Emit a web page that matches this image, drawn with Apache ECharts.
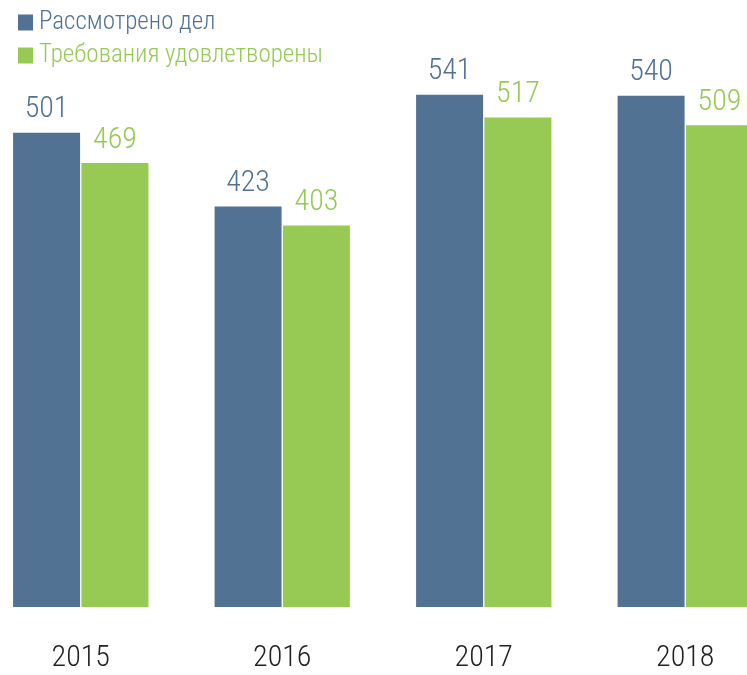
<!DOCTYPE html>
<html>
<head>
<meta charset="utf-8">
<script src="https://cdn.jsdelivr.net/npm/echarts@6/dist/echarts.min.js"></script>
<style>
html,body{margin:0;padding:0;background:#fff;}
#chart{width:747px;height:675px;}
</style>
</head>
<body>
<div id="chart"></div>
<script>
var years = ['2015', '2016', '2017', '2018'];
var considered = [501, 423, 541, 540];
var satisfied = [469, 403, 517, 509];
var seriesNames = ['Рассмотрено дел', 'Требования удовлетворены'];

var blue = '#527294';
var green = '#97c955';
var font = '"Roboto Condensed", "DejaVu Sans Condensed", sans-serif';

var chart = echarts.init(document.getElementById('chart'));

// подписи над столбцами
function barLabel(color) {
	return {
		show: true,
		position: 'top',
		distance: 8,
		color: color,
		fontFamily: font,
		fontWeight: 300,
		fontSize: 30
	};
}

chart.setOption({
	animation: false,
	legend: {
		orient: 'vertical',
		left: 13,
		top: 5,
		itemWidth: 15,
		itemHeight: 16,
		itemGap: 8,
		icon: 'rect',
		textStyle: { fontFamily: font, fontWeight: 300, fontSize: 25, padding: [0, 0, 0, 1] },
		data: [
			{ name: seriesNames[0], textStyle: { color: blue } },
			{ name: seriesNames[1], textStyle: { color: green } }
		]
	},
	grid: {
		left: -20,
		width: 806,
		top: 39,
		bottom: 68,
		outerBoundsMode: 'none',
		containLabel: false
	},
	xAxis: {
		type: 'category',
		data: years,
		axisLine: { show: false },
		axisTick: { show: false },
		axisLabel: {
			color: '#222222',
			fontFamily: font,
			fontWeight: 300,
			fontSize: 30,
			margin: 36
		}
	},
	yAxis: {
		type: 'value',
		min: 0,
		max: 600,
		show: false,
		splitLine: { show: false }
	},
	series: [
		{
			name: seriesNames[0],
			type: 'bar',
			data: considered,
			barWidth: 67,
			barGap: '2%',
			itemStyle: { color: blue },
			label: barLabel(blue)
		},
		{
			name: seriesNames[1],
			type: 'bar',
			data: satisfied,
			barWidth: 67,
			itemStyle: { color: green },
			label: barLabel(green)
		}
	]
});
</script>
</body>
</html>
